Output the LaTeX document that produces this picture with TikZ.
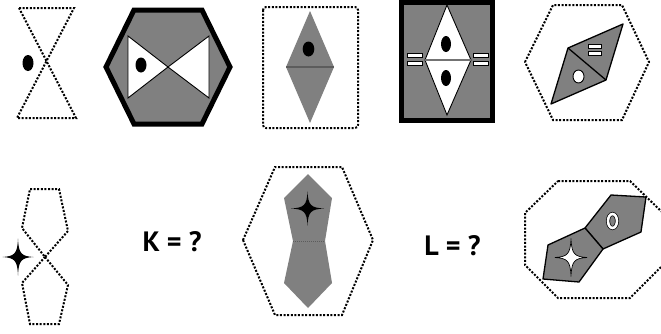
\documentclass[tikz,border=0pt]{standalone}
\usepackage{fontspec}
\setsansfont{PT Sans}
\definecolor{ShapeGrey}{HTML}{808080}
\definecolor{SeamGrey}{HTML}{5C5C5C}
\usepackage{tikz}

\tikzset{
  dotline/.style={line width=2pt, dash pattern=on 2pt off 1.6pt},
  heavyline/.style={line width=5pt},
  whiteface/.style={fill=white, draw=black, line width=0.9pt},
  greyface/.style={fill=ShapeGrey, draw=black, line width=1.3pt},
  seam/.style={draw=SeamGrey, line width=1.5pt},
  query/.style={font=\sffamily\bfseries\fontsize{28}{28}\selectfont, inner sep=0pt},
  eqsign/.pic={
    \path[pic actions] (-7.5,-5.8) rectangle (7.5,-1.8) (-7.5,1.8) rectangle (7.5,5.8);
  },
  sparkle/.pic={
    \path[pic actions] (0,1) .. controls (0.04,0.2) and (0.2,0.04) .. (1,0)
      .. controls (0.2,-0.04) and (0.04,-0.2) .. (0,-1)
      .. controls (-0.04,-0.2) and (-0.2,-0.04) .. (-1,0)
      .. controls (-0.2,0.04) and (-0.04,0.2) .. cycle;
  }
}

\begin{document}
\begin{tikzpicture}[x=1pt, y=-1pt]
  \useasboundingbox (0,0) rectangle (661,333);

  % Row 1: hourglass with dot
  \draw[dotline] (19,8) -- (74,8) -- (17,118) -- (76,118) -- cycle;
  \fill (28,63) ellipse [x radius=5.5, y radius=8];

  % Row 1: heavy hexagon with bow tie
  \draw[heavyline, fill=ShapeGrey] (106,67) -- (134,10) -- (202,10) -- (230,67) -- (202,124) -- (134,124) -- cycle;
  \draw[whiteface] (128,36) -- (168,67) -- (128,98) -- cycle;
  \draw[whiteface] (209,36) -- (168,67) -- (209,98) -- cycle;
  \fill (141,65) ellipse [x radius=5.5, y radius=7.5];

  % Row 1: grey diamond in dotted frame
  \draw[dotline, rounded corners=3pt] (263,7) rectangle (358,128);
  \fill[ShapeGrey] (310,11) -- (334,67) -- (310,123) -- (286,67) -- cycle;
  \draw[seam] (286,67) -- (334,67);
  \fill (308.5,49) ellipse [x radius=5.8, y radius=7.5];

  % Row 1: white diamond in heavy frame
  \draw[heavyline, fill=ShapeGrey] (401.5,2) rectangle (492.5,120);
  \draw[whiteface] (447,5) -- (471,60) -- (447,115) -- (425,60) -- cycle;
  \draw[seam, draw=ShapeGrey!90!black] (425,60) -- (471,60);
  \foreach \y in {44,78} {
    \fill (446,\y) ellipse [x radius=5, y radius=8];
  }
  \foreach \x in {414.5,481} {
    \pic[fill=white, draw=black, line width=0.8pt] at (\x,59.5) {eqsign};
  }

  % Row 1: tilted diamond in dotted hexagon
  \draw[dotline] (525,62) -- (553,5) -- (622,5) -- (649,62) -- (622,120) -- (553,120) -- cycle;
  \draw[greyface, line join=round] (623,24) -- (568,48) -- (551,104) -- (606,80) -- cycle;
  \draw[black, line width=1.3pt] (568,48) -- (606,80);
  \pic[fill=white, draw=black, line width=0.8pt, scale=0.9] at (595,50) {eqsign};
  \draw[fill=white, line width=0.9pt] (578.5,76.5) ellipse [x radius=5.5, y radius=6.5];

  % Row 2: crossed pentagons with star
  \draw[dotline] (30,189) -- (59,189) -- (68,231) -- (45,257) -- (22,228) -- cycle;
  \draw[dotline] (45,257) -- (68,285) -- (59,324) -- (30,324) -- (22,283) -- cycle;
  \pic[fill=black, xscale=15.5, yscale=18.5] at (18,257) {sparkle};

  \node[query] (qk) at (172,242) {K = ?};

  % Row 2: grey pentagons in dotted hexagon
  \draw[dotline] (243,240) -- (275,167) -- (342,167) -- (373,240) -- (342,315) -- (275,315) -- cycle;
  \fill[ShapeGrey] (308,174) -- (332,198) -- (325,241) -- (332,283) -- (308,308) -- (284,283) -- (293,241) -- (284,198) -- cycle;
  \draw[SeamGrey, line width=1pt, dash pattern=on 1pt off 1pt] (293,241) -- (325,241);
  \pic[fill=black, xscale=16.5, yscale=17] at (307.5,208.5) {sparkle};

  \node[query] (ql) at (452.5,246) {L = ?};

  % Row 2: tilted pentagons in dotted octagon
  \draw[dotline] (558,181) -- (630,181) -- (663,213) -- (663,265) -- (630,298) -- (558,298) -- (525,265) -- (525,213) -- cycle;
  \draw[greyface, line join=round] (611,195) -- (646,197) -- (641,232) -- (603,249) -- (585,228) -- cycle;
  \draw[greyface, line join=round] (585,228) -- (603,249) -- (579,282) -- (543,279) -- (548,245) -- cycle;
  \draw[double=white, double distance=2.6pt, line width=0.7pt] (612.5,221) ellipse [x radius=4.5, y radius=7];
  \pic[fill=white, draw=black, line width=0.7pt, xscale=16, yscale=19] at (571,257.5) {sparkle};
\end{tikzpicture}
\end{document}
